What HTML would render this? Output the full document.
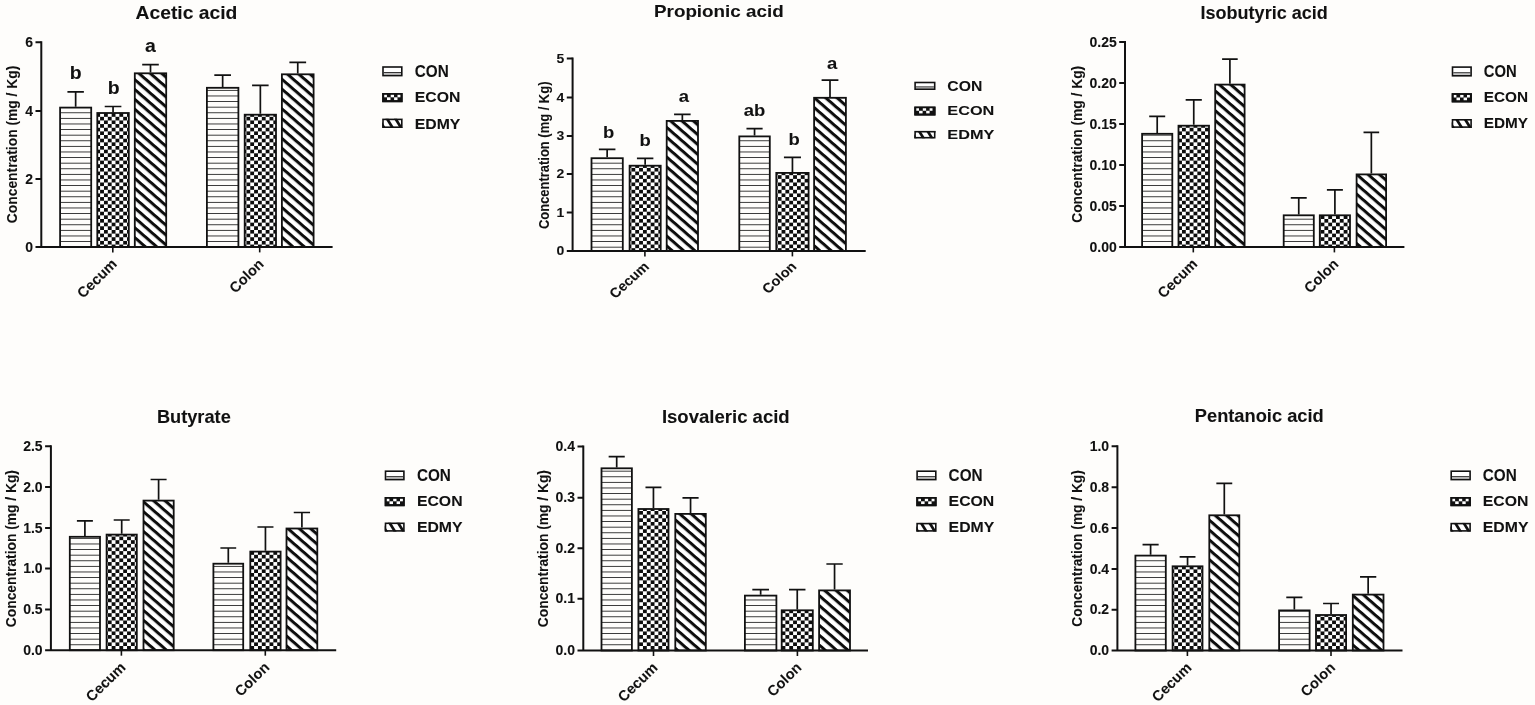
<!DOCTYPE html>
<html><head><meta charset="utf-8"><title>SCFA concentrations</title>
<style>
html,body{margin:0;padding:0;background:#fefdfb;}
body{width:1535px;height:705px;overflow:hidden;}
svg{display:block;filter:blur(0.35px);}
text{font-family:"Liberation Sans", Arial, sans-serif;font-weight:bold;fill:#111;stroke:#111;stroke-width:0.08px;}
</style></head><body>
<svg width="1535" height="705" viewBox="0 0 1535 705">
<defs>
<pattern id="pCon" patternUnits="userSpaceOnUse" width="40" height="5.6" y="0.3"><rect x="0" y="0" width="40" height="0.9" fill="#262626"/></pattern>
<pattern id="pEcon" patternUnits="userSpaceOnUse" width="7.7" height="7.3"><rect width="7.7" height="7.3" fill="#fff"/><rect x="0" y="0" width="3.85" height="3.65" fill="#0d0d0d"/><rect x="3.85" y="3.65" width="3.85" height="3.65" fill="#0d0d0d"/></pattern>
<pattern id="pEdmy" patternUnits="userSpaceOnUse" width="30" height="7.45" patternTransform="rotate(41)"><rect width="30" height="7.45" fill="#fff"/><rect x="0" y="0" width="30" height="3" fill="#0d0d0d"/></pattern>
</defs>
<rect width="1535" height="705" fill="#fefdfb"/>
<g>
<path d="M75.65 106.7V91.9M67.43 91.9H83.88" stroke="#111" stroke-width="1.7" fill="none"/>
<rect x="60.1" y="107.6" width="31.1" height="139.3" fill="url(#pCon)" stroke="#111" stroke-width="1.8"/>
<path d="M113.05 112.1V106.5M104.72 106.5H121.38" stroke="#111" stroke-width="1.7" fill="none"/>
<rect x="97.3" y="113" width="31.5" height="133.9" fill="url(#pEcon)" stroke="#111" stroke-width="1.8"/>
<path d="M150.5 72.4V64.6M142.2 64.6H158.8" stroke="#111" stroke-width="1.7" fill="none"/>
<rect x="134.8" y="73.3" width="31.4" height="173.6" fill="url(#pEdmy)" stroke="#111" stroke-width="1.8"/>
<path d="M222.65 86.9V75.1M214.32 75.1H230.98" stroke="#111" stroke-width="1.7" fill="none"/>
<rect x="206.9" y="87.8" width="31.5" height="159.1" fill="url(#pCon)" stroke="#111" stroke-width="1.8"/>
<path d="M260.35 113.8V85.3M252.08 85.3H268.62" stroke="#111" stroke-width="1.7" fill="none"/>
<rect x="244.7" y="114.7" width="31.3" height="132.2" fill="url(#pEcon)" stroke="#111" stroke-width="1.8"/>
<path d="M297.75 73.4V62.4M289.38 62.4H306.12" stroke="#111" stroke-width="1.7" fill="none"/>
<rect x="281.9" y="74.3" width="31.7" height="172.6" fill="url(#pEdmy)" stroke="#111" stroke-width="1.8"/>
<path d="M41.3 41.2V246.9M35.5 246.9H332.6" stroke="#111" stroke-width="2" fill="none"/>
<path d="M35.5 178.9H41.3M35.5 111H41.3M35.5 42.2H41.3" stroke="#111" stroke-width="2" fill="none"/>
<text font-size="14" text-anchor="end" transform="translate(33 251.5)">0</text>
<text font-size="14" text-anchor="end" transform="translate(33 183.5)">2</text>
<text font-size="14" text-anchor="end" transform="translate(33 115.6)">4</text>
<text font-size="14" text-anchor="end" transform="translate(33 46.8)">6</text>
<path d="M112.8 246.9V252.4" stroke="#111" stroke-width="1.6" fill="none"/>
<text font-size="14.6" text-anchor="end" transform="translate(117.8 265) rotate(-44.5)">Cecum</text>
<path d="M259.7 246.9V252.4" stroke="#111" stroke-width="1.6" fill="none"/>
<text font-size="14.6" text-anchor="end" transform="translate(264.7 265) rotate(-44.5)">Colon</text>
<text font-size="18.5" x="0" y="0" textLength="101.9" lengthAdjust="spacingAndGlyphs" transform="translate(135.5 19.1) scale(1 1.000)">Acetic acid</text>
<text font-size="15.3" text-anchor="middle" x="0" y="0" textLength="157.5" lengthAdjust="spacingAndGlyphs" transform="translate(16.9 144.4) rotate(-90)">Concentration (mg / Kg)</text>
<g><rect x="382.2" y="66.2" width="20.4" height="10.2" fill="#fff"/><rect x="383.8" y="73.07" width="17.2" height="1.73" fill="#c6c6c6"/><rect x="383.8" y="72.07" width="17.2" height="1" fill="#262626"/><rect x="383" y="67" width="18.8" height="8.6" fill="none" stroke="#111" stroke-width="1.6"/></g>
<text font-size="17" transform="translate(414.7 76.8) scale(0.900 1)">CON</text>
<g><rect x="382.2" y="93" width="20.4" height="9.2" fill="#fff"/><rect x="382.2" y="93" width="20.4" height="9.2" fill="#111"/><rect x="384.2" y="94.53" width="2.7" height="2.78" fill="#fff"/><rect x="390.7" y="94.53" width="3.3" height="2.78" fill="#fff"/><rect x="397.5" y="94.53" width="2.9" height="2.78" fill="#fff"/><rect x="387" y="97.31" width="3.5" height="2.78" fill="#fff"/><rect x="394.1" y="97.31" width="3.4" height="2.78" fill="#fff"/><rect x="383" y="93.8" width="18.8" height="7.6" fill="none" stroke="#111" stroke-width="1.6"/></g>
<text font-size="15.2" transform="translate(414.7 102.3) scale(1.040 1)">ECON</text>
<g><rect x="382.2" y="118.6" width="20.4" height="9.4" fill="#fff"/><clipPath id="lc1"><rect x="382.2" y="118.6" width="20.4" height="9.4"/></clipPath><g clip-path="url(#lc1)"><polygon points="376.8,118.6 380,118.6 385.83,128 382.63,128" fill="#111"/><polygon points="385.3,118.6 388.5,118.6 394.33,128 391.13,128" fill="#111"/><polygon points="393.8,118.6 397,118.6 402.83,128 399.63,128" fill="#111"/><polygon points="402.3,118.6 405.5,118.6 411.33,128 408.13,128" fill="#111"/></g><rect x="383" y="119.4" width="18.8" height="7.8" fill="none" stroke="#111" stroke-width="1.6"/></g>
<text font-size="15.2" transform="translate(414.7 128.5) scale(1.040 1)">EDMY</text>
<text font-size="18" text-anchor="middle" transform="translate(75.7 79.4) scale(1.080 1)">b</text>
<text font-size="18" text-anchor="middle" transform="translate(113.8 93.6) scale(1.080 1)">b</text>
<text font-size="18" text-anchor="middle" transform="translate(150.5 52.4) scale(1.080 1)">a</text>
</g>
<g>
<path d="M607.15 157.3V149.4M598.88 149.4H615.43" stroke="#111" stroke-width="1.7" fill="none"/>
<rect x="591.5" y="158.2" width="31.3" height="92.7" fill="url(#pCon)" stroke="#111" stroke-width="1.8"/>
<path d="M645.15 164.8V158.3M636.93 158.3H653.38" stroke="#111" stroke-width="1.7" fill="none"/>
<rect x="629.6" y="165.7" width="31.1" height="85.2" fill="url(#pEcon)" stroke="#111" stroke-width="1.8"/>
<path d="M682.35 120V114.3M674.07 114.3H690.62" stroke="#111" stroke-width="1.7" fill="none"/>
<rect x="666.7" y="120.9" width="31.3" height="130" fill="url(#pEdmy)" stroke="#111" stroke-width="1.8"/>
<path d="M754.55 135.5V128.7M746.47 128.7H762.62" stroke="#111" stroke-width="1.7" fill="none"/>
<rect x="739.3" y="136.4" width="30.5" height="114.5" fill="url(#pCon)" stroke="#111" stroke-width="1.8"/>
<path d="M792.45 172V157.3M783.93 157.3H800.98" stroke="#111" stroke-width="1.7" fill="none"/>
<rect x="776.3" y="172.9" width="32.3" height="78" fill="url(#pEcon)" stroke="#111" stroke-width="1.8"/>
<path d="M830 96.9V80.2M821.6 80.2H838.4" stroke="#111" stroke-width="1.7" fill="none"/>
<rect x="814.1" y="97.8" width="31.8" height="153.1" fill="url(#pEdmy)" stroke="#111" stroke-width="1.8"/>
<path d="M572.6 57.4V250.9M566.8 250.9H865.7" stroke="#111" stroke-width="2" fill="none"/>
<path d="M566.8 212.4H572.6M566.8 173.9H572.6M566.8 136H572.6M566.8 97.6H572.6M566.8 58.4H572.6" stroke="#111" stroke-width="2" fill="none"/>
<text font-size="14" text-anchor="end" transform="translate(564.3 255.27) scale(1 0.950)">0</text>
<text font-size="14" text-anchor="end" transform="translate(564.3 216.77) scale(1 0.950)">1</text>
<text font-size="14" text-anchor="end" transform="translate(564.3 178.27) scale(1 0.950)">2</text>
<text font-size="14" text-anchor="end" transform="translate(564.3 140.37) scale(1 0.950)">3</text>
<text font-size="14" text-anchor="end" transform="translate(564.3 101.97) scale(1 0.950)">4</text>
<text font-size="14" text-anchor="end" transform="translate(564.3 62.77) scale(1 0.950)">5</text>
<path d="M644.9 250.9V256.4" stroke="#111" stroke-width="1.6" fill="none"/>
<text font-size="14.6" text-anchor="end" transform="translate(649.9 267.5) scale(1 0.930) rotate(-44.5)">Cecum</text>
<path d="M792.4 250.9V256.4" stroke="#111" stroke-width="1.6" fill="none"/>
<text font-size="14.6" text-anchor="end" transform="translate(797.4 267.5) scale(1 0.930) rotate(-44.5)">Colon</text>
<text font-size="18.5" x="0" y="0" textLength="129.7" lengthAdjust="spacingAndGlyphs" transform="translate(654 16.7) scale(1 0.900)">Propionic acid</text>
<text font-size="14" text-anchor="middle" x="0" y="0" textLength="147.5" lengthAdjust="spacingAndGlyphs" transform="translate(548.8 155.3) rotate(-90)">Concentration (mg / Kg)</text>
<g><rect x="914.3" y="81.7" width="21.2" height="8.3" fill="#fff"/><rect x="915.9" y="87.4" width="18" height="1" fill="#c6c6c6"/><rect x="915.9" y="86.4" width="18" height="1" fill="#262626"/><rect x="915.1" y="82.5" width="19.6" height="6.7" fill="none" stroke="#111" stroke-width="1.6"/></g>
<text font-size="17" transform="translate(947.3 90.6) scale(1 0.900) scale(0.927 1)">CON</text>
<g><rect x="914.3" y="106.6" width="21.2" height="8.9" fill="#fff"/><rect x="914.3" y="106.6" width="21.2" height="8.9" fill="#111"/><rect x="916.3" y="108.08" width="2.7" height="2.69" fill="#fff"/><rect x="922.8" y="108.08" width="3.3" height="2.69" fill="#fff"/><rect x="929.6" y="108.08" width="2.9" height="2.69" fill="#fff"/><rect x="919.1" y="110.77" width="3.5" height="2.69" fill="#fff"/><rect x="926.2" y="110.77" width="3.4" height="2.69" fill="#fff"/><rect x="915.1" y="107.4" width="19.6" height="7.3" fill="none" stroke="#111" stroke-width="1.6"/></g>
<text font-size="15.2" transform="translate(947.3 115) scale(1 0.900) scale(1.071 1)">ECON</text>
<g><rect x="914.3" y="130.9" width="21.2" height="7.6" fill="#fff"/><clipPath id="lc2"><rect x="914.3" y="130.9" width="21.2" height="7.6"/></clipPath><g clip-path="url(#lc2)"><polygon points="908.9,130.9 912.1,130.9 916.81,138.5 913.61,138.5" fill="#111"/><polygon points="917.4,130.9 920.6,130.9 925.31,138.5 922.11,138.5" fill="#111"/><polygon points="925.9,130.9 929.1,130.9 933.81,138.5 930.61,138.5" fill="#111"/><polygon points="934.4,130.9 937.6,130.9 942.31,138.5 939.11,138.5" fill="#111"/></g><rect x="915.1" y="131.7" width="19.6" height="6" fill="none" stroke="#111" stroke-width="1.6"/></g>
<text font-size="15.2" transform="translate(947.3 139.3) scale(1 0.900) scale(1.071 1)">EDMY</text>
<text font-size="18" text-anchor="middle" transform="translate(608.7 137.8) scale(1 0.900) scale(1.026 1)">b</text>
<text font-size="18" text-anchor="middle" transform="translate(645.2 145.6) scale(1 0.900) scale(1.026 1)">b</text>
<text font-size="18" text-anchor="middle" transform="translate(683.9 102) scale(1 0.900) scale(1.026 1)">a</text>
<text font-size="18" text-anchor="middle" transform="translate(754.6 116.3) scale(1 0.900) scale(1.026 1)">ab</text>
<text font-size="18" text-anchor="middle" transform="translate(794.2 145.4) scale(1 0.900) scale(1.026 1)">b</text>
<text font-size="18" text-anchor="middle" transform="translate(832.1 68.9) scale(1 0.900) scale(1.026 1)">a</text>
</g>
<g>
<path d="M1157.2 132.9V116.3M1149.2 116.3H1165.2" stroke="#111" stroke-width="1.7" fill="none"/>
<rect x="1142.1" y="133.8" width="30.2" height="113.1" fill="url(#pCon)" stroke="#111" stroke-width="1.8"/>
<path d="M1193.75 124.8V99.9M1185.67 99.9H1201.83" stroke="#111" stroke-width="1.7" fill="none"/>
<rect x="1178.5" y="125.7" width="30.5" height="121.2" fill="url(#pEcon)" stroke="#111" stroke-width="1.8"/>
<path d="M1229.9 83.7V59.1M1222.1 59.1H1237.7" stroke="#111" stroke-width="1.7" fill="none"/>
<rect x="1215.2" y="84.6" width="29.4" height="162.3" fill="url(#pEdmy)" stroke="#111" stroke-width="1.8"/>
<path d="M1298.75 214.4V197.8M1290.78 197.8H1306.72" stroke="#111" stroke-width="1.7" fill="none"/>
<rect x="1283.7" y="215.3" width="30.1" height="31.6" fill="url(#pCon)" stroke="#111" stroke-width="1.8"/>
<path d="M1334.9 214.4V189.9M1326.9 189.9H1342.9" stroke="#111" stroke-width="1.7" fill="none"/>
<rect x="1319.8" y="215.3" width="30.2" height="31.6" fill="url(#pEcon)" stroke="#111" stroke-width="1.8"/>
<path d="M1371.35 173.5V132.4M1363.52 132.4H1379.17" stroke="#111" stroke-width="1.7" fill="none"/>
<rect x="1356.6" y="174.4" width="29.5" height="72.5" fill="url(#pEdmy)" stroke="#111" stroke-width="1.8"/>
<path d="M1125 41V246.9M1119.2 246.9H1404.4" stroke="#111" stroke-width="2" fill="none"/>
<path d="M1119.2 206H1125M1119.2 164.9H1125M1119.2 123.9H1125M1119.2 83.1H1125M1119.2 42H1125" stroke="#111" stroke-width="2" fill="none"/>
<text font-size="14" text-anchor="end" transform="translate(1116.7 251.5)">0.00</text>
<text font-size="14" text-anchor="end" transform="translate(1116.7 210.6)">0.05</text>
<text font-size="14" text-anchor="end" transform="translate(1116.7 169.5)">0.10</text>
<text font-size="14" text-anchor="end" transform="translate(1116.7 128.5)">0.15</text>
<text font-size="14" text-anchor="end" transform="translate(1116.7 87.7)">0.20</text>
<text font-size="14" text-anchor="end" transform="translate(1116.7 46.6)">0.25</text>
<path d="M1193.3 246.9V252.4" stroke="#111" stroke-width="1.6" fill="none"/>
<text font-size="14.6" text-anchor="end" transform="translate(1198.3 265) rotate(-44.5)">Cecum</text>
<path d="M1334.4 246.9V252.4" stroke="#111" stroke-width="1.6" fill="none"/>
<text font-size="14.6" text-anchor="end" transform="translate(1339.4 265) rotate(-44.5)">Colon</text>
<text font-size="18.5" x="0" y="0" textLength="127.1" lengthAdjust="spacingAndGlyphs" transform="translate(1200.6 18.8) scale(1 1.000)">Isobutyric acid</text>
<text font-size="15.3" text-anchor="middle" x="0" y="0" textLength="157" lengthAdjust="spacingAndGlyphs" transform="translate(1081.9 144.3) rotate(-90)">Concentration (mg / Kg)</text>
<g><rect x="1451.7" y="66.3" width="20.2" height="10.3" fill="#fff"/><rect x="1453.3" y="73.23" width="17" height="1.77" fill="#c6c6c6"/><rect x="1453.3" y="72.23" width="17" height="1" fill="#262626"/><rect x="1452.5" y="67.1" width="18.6" height="8.7" fill="none" stroke="#111" stroke-width="1.6"/></g>
<text font-size="17" transform="translate(1483.7 76.8) scale(0.873 1)">CON</text>
<g><rect x="1451.7" y="93.2" width="20.2" height="9.2" fill="#fff"/><rect x="1451.7" y="93.2" width="20.2" height="9.2" fill="#111"/><rect x="1453.7" y="94.73" width="2.7" height="2.78" fill="#fff"/><rect x="1460.2" y="94.73" width="3.3" height="2.78" fill="#fff"/><rect x="1467" y="94.73" width="2.9" height="2.78" fill="#fff"/><rect x="1456.5" y="97.51" width="3.5" height="2.78" fill="#fff"/><rect x="1463.6" y="97.51" width="3.4" height="2.78" fill="#fff"/><rect x="1452.5" y="94" width="18.6" height="7.6" fill="none" stroke="#111" stroke-width="1.6"/></g>
<text font-size="15.2" transform="translate(1483.7 102.4) scale(1.009 1)">ECON</text>
<g><rect x="1451.7" y="119" width="20.2" height="8.9" fill="#fff"/><clipPath id="lc3"><rect x="1451.7" y="119" width="20.2" height="8.9"/></clipPath><g clip-path="url(#lc3)"><polygon points="1446.3,119 1449.5,119 1455.02,127.9 1451.82,127.9" fill="#111"/><polygon points="1454.8,119 1458,119 1463.52,127.9 1460.32,127.9" fill="#111"/><polygon points="1463.3,119 1466.5,119 1472.02,127.9 1468.82,127.9" fill="#111"/><polygon points="1471.8,119 1475,119 1480.52,127.9 1477.32,127.9" fill="#111"/></g><rect x="1452.5" y="119.8" width="18.6" height="7.3" fill="none" stroke="#111" stroke-width="1.6"/></g>
<text font-size="15.2" transform="translate(1483.7 128.2) scale(1.009 1)">EDMY</text>
</g>
<g>
<path d="M84.9 535.9V520.8M76.9 520.8H92.9" stroke="#111" stroke-width="1.7" fill="none"/>
<rect x="69.8" y="536.8" width="30.2" height="113.4" fill="url(#pCon)" stroke="#111" stroke-width="1.8"/>
<path d="M121.7 533.7V520M113.7 520H129.7" stroke="#111" stroke-width="1.7" fill="none"/>
<rect x="106.6" y="534.6" width="30.2" height="115.6" fill="url(#pEcon)" stroke="#111" stroke-width="1.8"/>
<path d="M158.6 499.7V479.5M150.6 479.5H166.6" stroke="#111" stroke-width="1.7" fill="none"/>
<rect x="143.5" y="500.6" width="30.2" height="149.6" fill="url(#pEdmy)" stroke="#111" stroke-width="1.8"/>
<path d="M228.3 562.8V548M220.4 548H236.2" stroke="#111" stroke-width="1.7" fill="none"/>
<rect x="213.4" y="563.7" width="29.8" height="86.5" fill="url(#pCon)" stroke="#111" stroke-width="1.8"/>
<path d="M265.45 550.7V527M257.43 527H273.47" stroke="#111" stroke-width="1.7" fill="none"/>
<rect x="250.3" y="551.6" width="30.3" height="98.6" fill="url(#pEcon)" stroke="#111" stroke-width="1.8"/>
<path d="M301.9 527.6V512.5M293.75 512.5H310.05" stroke="#111" stroke-width="1.7" fill="none"/>
<rect x="286.5" y="528.5" width="30.8" height="121.7" fill="url(#pEdmy)" stroke="#111" stroke-width="1.8"/>
<path d="M50.9 445.3V650.2M45.1 650.2H336.2" stroke="#111" stroke-width="2" fill="none"/>
<path d="M45.1 609.4H50.9M45.1 568.6H50.9M45.1 527.9H50.9M45.1 487.1H50.9M45.1 446.3H50.9" stroke="#111" stroke-width="2" fill="none"/>
<text font-size="14" text-anchor="end" transform="translate(42.6 654.8)">0.0</text>
<text font-size="14" text-anchor="end" transform="translate(42.6 614)">0.5</text>
<text font-size="14" text-anchor="end" transform="translate(42.6 573.2)">1.0</text>
<text font-size="14" text-anchor="end" transform="translate(42.6 532.5)">1.5</text>
<text font-size="14" text-anchor="end" transform="translate(42.6 491.7)">2.0</text>
<text font-size="14" text-anchor="end" transform="translate(42.6 450.9)">2.5</text>
<path d="M121.4 650.2V655.7" stroke="#111" stroke-width="1.6" fill="none"/>
<text font-size="14.6" text-anchor="end" transform="translate(126.4 668.3) rotate(-44.5)">Cecum</text>
<path d="M265.3 650.2V655.7" stroke="#111" stroke-width="1.6" fill="none"/>
<text font-size="14.6" text-anchor="end" transform="translate(270.3 668.3) rotate(-44.5)">Colon</text>
<text font-size="18.5" x="0" y="0" textLength="73.9" lengthAdjust="spacingAndGlyphs" transform="translate(156.9 422.7) scale(1 1.000)">Butyrate</text>
<text font-size="15.3" text-anchor="middle" x="0" y="0" textLength="157.1" lengthAdjust="spacingAndGlyphs" transform="translate(16.4 548.6) rotate(-90)">Concentration (mg / Kg)</text>
<g><rect x="384.7" y="470.4" width="20" height="10" fill="#fff"/><rect x="386.3" y="477.15" width="16.8" height="1.65" fill="#c6c6c6"/><rect x="386.3" y="476.15" width="16.8" height="1" fill="#262626"/><rect x="385.5" y="471.2" width="18.4" height="8.4" fill="none" stroke="#111" stroke-width="1.6"/></g>
<text font-size="17" transform="translate(416.9 480.6) scale(0.900 1)">CON</text>
<g><rect x="384.7" y="497" width="20" height="9.2" fill="#fff"/><rect x="384.7" y="497" width="20" height="9.2" fill="#111"/><rect x="386.7" y="498.53" width="2.7" height="2.78" fill="#fff"/><rect x="393.2" y="498.53" width="3.3" height="2.78" fill="#fff"/><rect x="400" y="498.53" width="2.9" height="2.78" fill="#fff"/><rect x="389.5" y="501.31" width="3.5" height="2.78" fill="#fff"/><rect x="396.6" y="501.31" width="3.4" height="2.78" fill="#fff"/><rect x="385.5" y="497.8" width="18.4" height="7.6" fill="none" stroke="#111" stroke-width="1.6"/></g>
<text font-size="15.2" transform="translate(416.9 506.2) scale(1.040 1)">ECON</text>
<g><rect x="384.7" y="522.5" width="20" height="9.2" fill="#fff"/><clipPath id="lc4"><rect x="384.7" y="522.5" width="20" height="9.2"/></clipPath><g clip-path="url(#lc4)"><polygon points="379.3,522.5 382.5,522.5 388.2,531.7 385,531.7" fill="#111"/><polygon points="387.8,522.5 391,522.5 396.7,531.7 393.5,531.7" fill="#111"/><polygon points="396.3,522.5 399.5,522.5 405.2,531.7 402,531.7" fill="#111"/><polygon points="404.8,522.5 408,522.5 413.7,531.7 410.5,531.7" fill="#111"/></g><rect x="385.5" y="523.3" width="18.4" height="7.6" fill="none" stroke="#111" stroke-width="1.6"/></g>
<text font-size="15.2" transform="translate(416.9 531.7) scale(1.040 1)">EDMY</text>
</g>
<g>
<path d="M616.7 467.4V456.7M608.65 456.7H624.75" stroke="#111" stroke-width="1.7" fill="none"/>
<rect x="601.5" y="468.3" width="30.4" height="182.2" fill="url(#pCon)" stroke="#111" stroke-width="1.8"/>
<path d="M653.45 508.1V487.3M645.48 487.3H661.43" stroke="#111" stroke-width="1.7" fill="none"/>
<rect x="638.4" y="509" width="30.1" height="141.5" fill="url(#pEcon)" stroke="#111" stroke-width="1.8"/>
<path d="M690.55 513V497.8M682.47 497.8H698.62" stroke="#111" stroke-width="1.7" fill="none"/>
<rect x="675.3" y="513.9" width="30.5" height="136.6" fill="url(#pEdmy)" stroke="#111" stroke-width="1.8"/>
<path d="M760.65 594.7V589.7M752.33 589.7H768.97" stroke="#111" stroke-width="1.7" fill="none"/>
<rect x="744.9" y="595.6" width="31.5" height="54.9" fill="url(#pCon)" stroke="#111" stroke-width="1.8"/>
<path d="M797.25 609.4V589.7M789.02 589.7H805.48" stroke="#111" stroke-width="1.7" fill="none"/>
<rect x="781.7" y="610.3" width="31.1" height="40.2" fill="url(#pEcon)" stroke="#111" stroke-width="1.8"/>
<path d="M834.55 589.5V564M826.38 564H842.72" stroke="#111" stroke-width="1.7" fill="none"/>
<rect x="819.1" y="590.4" width="30.9" height="60.1" fill="url(#pEdmy)" stroke="#111" stroke-width="1.8"/>
<path d="M583.3 445.4V650.5M577.5 650.5H868" stroke="#111" stroke-width="2" fill="none"/>
<path d="M577.5 598.8H583.3M577.5 548.2H583.3M577.5 497.8H583.3M577.5 446.4H583.3" stroke="#111" stroke-width="2" fill="none"/>
<text font-size="14" text-anchor="end" transform="translate(575 654.9)">0.0</text>
<text font-size="14" text-anchor="end" transform="translate(575 603.4)">0.1</text>
<text font-size="14" text-anchor="end" transform="translate(575 552.8)">0.2</text>
<text font-size="14" text-anchor="end" transform="translate(575 502.4)">0.3</text>
<text font-size="14" text-anchor="end" transform="translate(575 451)">0.4</text>
<path d="M653.5 650.5V656" stroke="#111" stroke-width="1.6" fill="none"/>
<text font-size="14.6" text-anchor="end" transform="translate(658.5 668.6) rotate(-44.5)">Cecum</text>
<path d="M797.4 650.5V656" stroke="#111" stroke-width="1.6" fill="none"/>
<text font-size="14.6" text-anchor="end" transform="translate(802.4 668.6) rotate(-44.5)">Colon</text>
<text font-size="18.5" x="0" y="0" textLength="127.8" lengthAdjust="spacingAndGlyphs" transform="translate(661.9 422.5) scale(1 1.000)">Isovaleric acid</text>
<text font-size="15.3" text-anchor="middle" x="0" y="0" textLength="157.1" lengthAdjust="spacingAndGlyphs" transform="translate(547.6 548.6) rotate(-90)">Concentration (mg / Kg)</text>
<g><rect x="916.3" y="470.4" width="20.3" height="10" fill="#fff"/><rect x="917.9" y="477.15" width="17.1" height="1.65" fill="#c6c6c6"/><rect x="917.9" y="476.15" width="17.1" height="1" fill="#262626"/><rect x="917.1" y="471.2" width="18.7" height="8.4" fill="none" stroke="#111" stroke-width="1.6"/></g>
<text font-size="17" transform="translate(948.6 480.6) scale(0.900 1)">CON</text>
<g><rect x="916.3" y="497" width="20.3" height="9.2" fill="#fff"/><rect x="916.3" y="497" width="20.3" height="9.2" fill="#111"/><rect x="918.3" y="498.53" width="2.7" height="2.78" fill="#fff"/><rect x="924.8" y="498.53" width="3.3" height="2.78" fill="#fff"/><rect x="931.6" y="498.53" width="2.9" height="2.78" fill="#fff"/><rect x="921.1" y="501.31" width="3.5" height="2.78" fill="#fff"/><rect x="928.2" y="501.31" width="3.4" height="2.78" fill="#fff"/><rect x="917.1" y="497.8" width="18.7" height="7.6" fill="none" stroke="#111" stroke-width="1.6"/></g>
<text font-size="15.2" transform="translate(948.6 506.2) scale(1.040 1)">ECON</text>
<g><rect x="916.3" y="522.8" width="20.3" height="8.9" fill="#fff"/><clipPath id="lc5"><rect x="916.3" y="522.8" width="20.3" height="8.9"/></clipPath><g clip-path="url(#lc5)"><polygon points="910.9,522.8 914.1,522.8 919.62,531.7 916.42,531.7" fill="#111"/><polygon points="919.4,522.8 922.6,522.8 928.12,531.7 924.92,531.7" fill="#111"/><polygon points="927.9,522.8 931.1,522.8 936.62,531.7 933.42,531.7" fill="#111"/><polygon points="936.4,522.8 939.6,522.8 945.12,531.7 941.92,531.7" fill="#111"/></g><rect x="917.1" y="523.6" width="18.7" height="7.3" fill="none" stroke="#111" stroke-width="1.6"/></g>
<text font-size="15.2" transform="translate(948.6 531.7) scale(1.040 1)">EDMY</text>
</g>
<g>
<path d="M1150.6 554.7V544.6M1142.55 544.6H1158.65" stroke="#111" stroke-width="1.7" fill="none"/>
<rect x="1135.4" y="555.6" width="30.4" height="94.9" fill="url(#pCon)" stroke="#111" stroke-width="1.8"/>
<path d="M1187.55 565.4V556.9M1179.63 556.9H1195.48" stroke="#111" stroke-width="1.7" fill="none"/>
<rect x="1172.6" y="566.3" width="29.9" height="84.2" fill="url(#pEcon)" stroke="#111" stroke-width="1.8"/>
<path d="M1224.3 514.4V483.4M1216.35 483.4H1232.25" stroke="#111" stroke-width="1.7" fill="none"/>
<rect x="1209.3" y="515.3" width="30" height="135.2" fill="url(#pEdmy)" stroke="#111" stroke-width="1.8"/>
<path d="M1294.35 609.5V597.4M1286.27 597.4H1302.42" stroke="#111" stroke-width="1.7" fill="none"/>
<rect x="1279.1" y="610.4" width="30.5" height="40.1" fill="url(#pCon)" stroke="#111" stroke-width="1.8"/>
<path d="M1331.05 614.1V603.5M1323.07 603.5H1339.03" stroke="#111" stroke-width="1.7" fill="none"/>
<rect x="1316" y="615" width="30.1" height="35.5" fill="url(#pEcon)" stroke="#111" stroke-width="1.8"/>
<path d="M1368.15 593.7V576.9M1360.03 576.9H1376.28" stroke="#111" stroke-width="1.7" fill="none"/>
<rect x="1352.8" y="594.6" width="30.7" height="55.9" fill="url(#pEdmy)" stroke="#111" stroke-width="1.8"/>
<path d="M1117.4 445.3V650.5M1111.6 650.5H1402.5" stroke="#111" stroke-width="2" fill="none"/>
<path d="M1111.6 609.7H1117.4M1111.6 568.9H1117.4M1111.6 528.1H1117.4M1111.6 487.3H1117.4M1111.6 446.3H1117.4" stroke="#111" stroke-width="2" fill="none"/>
<text font-size="14" text-anchor="end" transform="translate(1109.1 655.1)">0.0</text>
<text font-size="14" text-anchor="end" transform="translate(1109.1 614.3)">0.2</text>
<text font-size="14" text-anchor="end" transform="translate(1109.1 573.5)">0.4</text>
<text font-size="14" text-anchor="end" transform="translate(1109.1 532.7)">0.6</text>
<text font-size="14" text-anchor="end" transform="translate(1109.1 491.9)">0.8</text>
<text font-size="14" text-anchor="end" transform="translate(1109.1 450.9)">1.0</text>
<path d="M1187.4 650.5V656" stroke="#111" stroke-width="1.6" fill="none"/>
<text font-size="14.6" text-anchor="end" transform="translate(1192.4 668.6) rotate(-44.5)">Cecum</text>
<path d="M1331 650.5V656" stroke="#111" stroke-width="1.6" fill="none"/>
<text font-size="14.6" text-anchor="end" transform="translate(1336 668.6) rotate(-44.5)">Colon</text>
<text font-size="18.5" x="0" y="0" textLength="128.9" lengthAdjust="spacingAndGlyphs" transform="translate(1194.8 422.4) scale(1 1.000)">Pentanoic acid</text>
<text font-size="15.3" text-anchor="middle" x="0" y="0" textLength="156.5" lengthAdjust="spacingAndGlyphs" transform="translate(1082.1 548.4) rotate(-90)">Concentration (mg / Kg)</text>
<g><rect x="1450.4" y="470.4" width="20.5" height="10" fill="#fff"/><rect x="1452" y="477.15" width="17.3" height="1.65" fill="#c6c6c6"/><rect x="1452" y="476.15" width="17.3" height="1" fill="#262626"/><rect x="1451.2" y="471.2" width="18.9" height="8.4" fill="none" stroke="#111" stroke-width="1.6"/></g>
<text font-size="17" transform="translate(1482.8 480.6) scale(0.900 1)">CON</text>
<g><rect x="1450.4" y="497" width="20.5" height="9.2" fill="#fff"/><rect x="1450.4" y="497" width="20.5" height="9.2" fill="#111"/><rect x="1452.4" y="498.53" width="2.7" height="2.78" fill="#fff"/><rect x="1458.9" y="498.53" width="3.3" height="2.78" fill="#fff"/><rect x="1465.7" y="498.53" width="2.9" height="2.78" fill="#fff"/><rect x="1455.2" y="501.31" width="3.5" height="2.78" fill="#fff"/><rect x="1462.3" y="501.31" width="3.4" height="2.78" fill="#fff"/><rect x="1451.2" y="497.8" width="18.9" height="7.6" fill="none" stroke="#111" stroke-width="1.6"/></g>
<text font-size="15.2" transform="translate(1482.8 506.2) scale(1.040 1)">ECON</text>
<g><rect x="1450.4" y="522.8" width="20.5" height="8.9" fill="#fff"/><clipPath id="lc6"><rect x="1450.4" y="522.8" width="20.5" height="8.9"/></clipPath><g clip-path="url(#lc6)"><polygon points="1445,522.8 1448.2,522.8 1453.72,531.7 1450.52,531.7" fill="#111"/><polygon points="1453.5,522.8 1456.7,522.8 1462.22,531.7 1459.02,531.7" fill="#111"/><polygon points="1462,522.8 1465.2,522.8 1470.72,531.7 1467.52,531.7" fill="#111"/><polygon points="1470.5,522.8 1473.7,522.8 1479.22,531.7 1476.02,531.7" fill="#111"/></g><rect x="1451.2" y="523.6" width="18.9" height="7.3" fill="none" stroke="#111" stroke-width="1.6"/></g>
<text font-size="15.2" transform="translate(1482.8 531.7) scale(1.040 1)">EDMY</text>
</g>
</svg>
</body></html>
